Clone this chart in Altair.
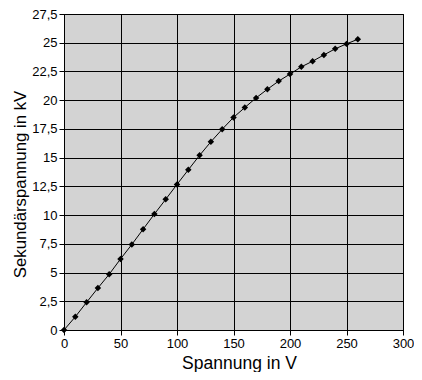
import altair as alt
import pandas as pd

spannung_v = [0, 10, 20, 30, 40, 50, 60, 70, 80, 90, 100, 110, 120, 130,
              140, 150, 160, 170, 180, 190, 200, 210, 220, 230, 240, 250, 260]
sekundaer_kv = [0, 1.15, 2.41, 3.65, 4.85, 6.18, 7.44, 8.77, 10.09, 11.37, 12.67,
                13.94, 15.2, 16.38, 17.47, 18.5, 19.36, 20.2, 20.95, 21.66, 22.27,
                22.9, 23.39, 23.94, 24.47, 24.9, 25.3]
x_ticks = [0, 50, 100, 150, 200, 250, 300]
y_ticks = [0, 2.5, 5, 7.5, 10, 12.5, 15, 17.5, 20, 22.5, 25, 27.5]

df = pd.DataFrame({"V": spannung_v, "kV": sekundaer_kv})

font = "Liberation Sans"
label_expr = "replace(format(datum.value, '~g'), '.', ',')"

x = alt.X("V:Q", title="Spannung in V",
          scale=alt.Scale(domain=[0, 300], nice=False, zero=True),
          axis=alt.Axis(values=x_ticks, labelExpr=label_expr, tickSize=5,
                        labelPadding=2, labelFlush=False, titleFontSize=17.5,
                        titleX=175, titleY=38, titleBaseline="alphabetic"))
y = alt.Y("kV:Q", title="Sekundärspannung in kV",
          scale=alt.Scale(domain=[0, 27.5], nice=False),
          axis=alt.Axis(values=y_ticks, labelExpr=label_expr, tickSize=5,
                        labelPadding=2, labelFlush=False, titleFontSize=16.8,
                        titleX=-35, titleY=170))

line = alt.Chart(df).mark_line(color="black", strokeWidth=1).encode(x=x, y=y)
pts = alt.Chart(df).mark_point(shape="diamond", filled=True, color="black",
                               size=42, opacity=1).encode(x=x, y=y)

chart = (line + pts).properties(
    width=339, height=316,
    autosize=alt.AutoSizeParams(type="none"),
    padding={"left": 56, "top": 6, "right": 11, "bottom": 42},
    background="white",
).configure_view(
    fill="#d3d3d3", stroke="black", strokeWidth=1
).configure_axis(
    grid=True, gridColor="black", gridOpacity=1, gridWidth=1,
    domainColor="black", tickColor="black",
    labelFont=font, labelFontSize=13, labelColor="black",
    titleFont=font, titleFontWeight="normal", titleColor="black",
)

chart.save("out.html", embed_options={"renderer": "svg", "actions": False})
